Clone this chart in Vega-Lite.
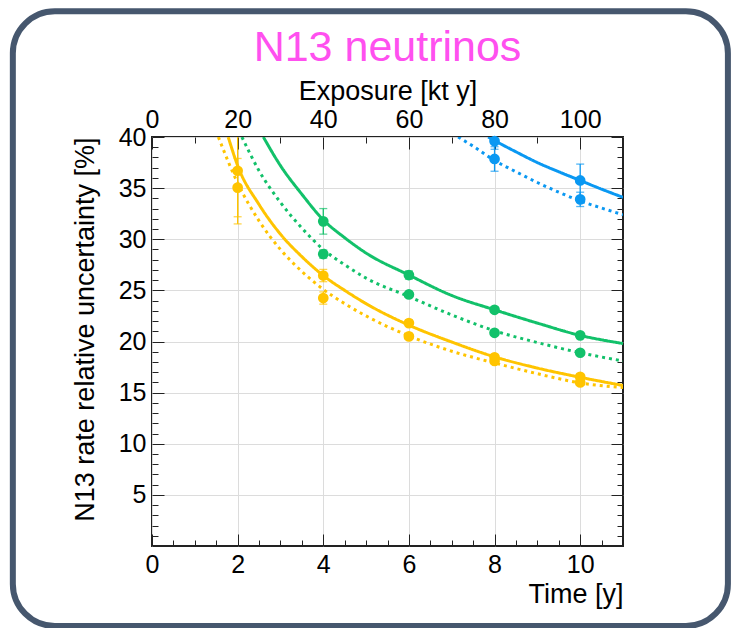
{
  "$schema": "https://vega.github.io/schema/vega-lite/v6.json",
  "width": 471,
  "height": 409,
  "autosize": {"type": "none"},
  "padding": {"left": 152, "top": 137, "right": 113, "bottom": 82},
  "background": "white",
  "config": {
    "font": "Liberation Sans",
    "view": {"stroke": "#222222", "strokeWidth": 2},
    "axis": {"labelColor": "#000000", "titleColor": "#000000", "tickColor": "#222222", "labelFont": "Liberation Sans", "titleFont": "Liberation Sans", "titleFontWeight": "normal"}
  },
  "title": {"text": "N13 neutrinos", "fontSize": 43, "color": "#ff50ef", "fontWeight": "normal", "anchor": "middle", "baseline": "alphabetic", "offset": -96, "font": "Liberation Sans"},
  "datasets": {
    "curves": [
      {"group": "yellow", "kind": "solid", "t": 1.78, "v": 40},
      {"group": "yellow", "kind": "solid", "t": 2, "v": 37.2},
      {"group": "yellow", "kind": "solid", "t": 2.5, "v": 33.4},
      {"group": "yellow", "kind": "solid", "t": 3, "v": 30.5},
      {"group": "yellow", "kind": "solid", "t": 3.5, "v": 28.3},
      {"group": "yellow", "kind": "solid", "t": 4, "v": 26.45},
      {"group": "yellow", "kind": "solid", "t": 4.5, "v": 25.0},
      {"group": "yellow", "kind": "solid", "t": 5, "v": 23.7},
      {"group": "yellow", "kind": "solid", "t": 6, "v": 21.6},
      {"group": "yellow", "kind": "solid", "t": 7, "v": 19.95},
      {"group": "yellow", "kind": "solid", "t": 8, "v": 18.5},
      {"group": "yellow", "kind": "solid", "t": 9, "v": 17.4},
      {"group": "yellow", "kind": "solid", "t": 10, "v": 16.5},
      {"group": "yellow", "kind": "solid", "t": 11, "v": 15.7},
      {"group": "yellow", "kind": "dotted", "t": 1.55, "v": 40},
      {"group": "yellow", "kind": "dotted", "t": 2, "v": 35.5},
      {"group": "yellow", "kind": "dotted", "t": 2.5, "v": 31.8},
      {"group": "yellow", "kind": "dotted", "t": 3, "v": 29.0},
      {"group": "yellow", "kind": "dotted", "t": 3.5, "v": 26.85},
      {"group": "yellow", "kind": "dotted", "t": 4, "v": 25.1},
      {"group": "yellow", "kind": "dotted", "t": 4.5, "v": 23.7},
      {"group": "yellow", "kind": "dotted", "t": 5, "v": 22.5},
      {"group": "yellow", "kind": "dotted", "t": 6, "v": 20.55},
      {"group": "yellow", "kind": "dotted", "t": 7, "v": 19.05},
      {"group": "yellow", "kind": "dotted", "t": 8, "v": 17.9},
      {"group": "yellow", "kind": "dotted", "t": 9, "v": 16.85},
      {"group": "yellow", "kind": "dotted", "t": 10, "v": 15.95},
      {"group": "yellow", "kind": "dotted", "t": 11, "v": 15.5},
      {"group": "green", "kind": "solid", "t": 2.6, "v": 40},
      {"group": "green", "kind": "solid", "t": 3, "v": 37.2},
      {"group": "green", "kind": "solid", "t": 3.5, "v": 34.4},
      {"group": "green", "kind": "solid", "t": 4, "v": 31.9},
      {"group": "green", "kind": "solid", "t": 4.5, "v": 30.15},
      {"group": "green", "kind": "solid", "t": 5, "v": 28.65},
      {"group": "green", "kind": "solid", "t": 6, "v": 26.5},
      {"group": "green", "kind": "solid", "t": 7, "v": 24.5},
      {"group": "green", "kind": "solid", "t": 8, "v": 23.1},
      {"group": "green", "kind": "solid", "t": 9, "v": 21.8},
      {"group": "green", "kind": "solid", "t": 10, "v": 20.6},
      {"group": "green", "kind": "solid", "t": 11, "v": 19.8},
      {"group": "green", "kind": "dotted", "t": 2.1, "v": 40},
      {"group": "green", "kind": "dotted", "t": 2.5, "v": 36.7},
      {"group": "green", "kind": "dotted", "t": 3, "v": 33.6},
      {"group": "green", "kind": "dotted", "t": 3.5, "v": 31.1},
      {"group": "green", "kind": "dotted", "t": 4, "v": 29.0},
      {"group": "green", "kind": "dotted", "t": 4.5, "v": 27.5},
      {"group": "green", "kind": "dotted", "t": 5, "v": 26.2},
      {"group": "green", "kind": "dotted", "t": 6, "v": 24.4},
      {"group": "green", "kind": "dotted", "t": 7, "v": 22.6},
      {"group": "green", "kind": "dotted", "t": 8, "v": 21.05},
      {"group": "green", "kind": "dotted", "t": 9, "v": 19.9},
      {"group": "green", "kind": "dotted", "t": 10, "v": 18.9},
      {"group": "green", "kind": "dotted", "t": 11, "v": 18.1},
      {"group": "blue", "kind": "solid", "t": 7.85, "v": 40},
      {"group": "blue", "kind": "solid", "t": 8, "v": 39.65},
      {"group": "blue", "kind": "solid", "t": 8.5, "v": 38.55},
      {"group": "blue", "kind": "solid", "t": 9, "v": 37.5},
      {"group": "blue", "kind": "solid", "t": 9.5, "v": 36.6},
      {"group": "blue", "kind": "solid", "t": 10, "v": 35.75},
      {"group": "blue", "kind": "solid", "t": 10.5, "v": 34.9},
      {"group": "blue", "kind": "solid", "t": 11, "v": 34.1},
      {"group": "blue", "kind": "dotted", "t": 7.15, "v": 40},
      {"group": "blue", "kind": "dotted", "t": 7.5, "v": 39.1},
      {"group": "blue", "kind": "dotted", "t": 8, "v": 37.7},
      {"group": "blue", "kind": "dotted", "t": 8.5, "v": 36.6},
      {"group": "blue", "kind": "dotted", "t": 9, "v": 35.55},
      {"group": "blue", "kind": "dotted", "t": 9.5, "v": 34.6},
      {"group": "blue", "kind": "dotted", "t": 10, "v": 33.75},
      {"group": "blue", "kind": "dotted", "t": 10.5, "v": 33.05},
      {"group": "blue", "kind": "dotted", "t": 11, "v": 32.4}
    ],
    "points": [
      {"group": "yellow", "kind": "solid", "t": 2, "v": 36.7, "lo": 31.5, "hi": 41.9},
      {"group": "yellow", "kind": "solid", "t": 4, "v": 26.45, "lo": 25.85, "hi": 27.05},
      {"group": "yellow", "kind": "solid", "t": 6, "v": 21.8, "lo": 21.5, "hi": 22.1},
      {"group": "yellow", "kind": "solid", "t": 8, "v": 18.45, "lo": 18.2, "hi": 18.7},
      {"group": "yellow", "kind": "solid", "t": 10, "v": 16.55, "lo": 16.3, "hi": 16.8},
      {"group": "yellow", "kind": "dotted", "t": 2, "v": 35.05, "lo": 32.2, "hi": 37.9},
      {"group": "yellow", "kind": "dotted", "t": 4, "v": 24.25, "lo": 23.65, "hi": 24.85},
      {"group": "yellow", "kind": "dotted", "t": 6, "v": 20.5, "lo": 20.25, "hi": 20.75},
      {"group": "yellow", "kind": "dotted", "t": 8, "v": 18.1, "lo": 17.85, "hi": 18.35},
      {"group": "yellow", "kind": "dotted", "t": 10, "v": 16.0, "lo": 15.75, "hi": 16.25},
      {"group": "green", "kind": "solid", "t": 4, "v": 31.75, "lo": 30.5, "hi": 33.0},
      {"group": "green", "kind": "solid", "t": 6, "v": 26.5, "lo": 26.1, "hi": 26.9},
      {"group": "green", "kind": "solid", "t": 8, "v": 23.1, "lo": 22.85, "hi": 23.35},
      {"group": "green", "kind": "solid", "t": 10, "v": 20.6, "lo": 20.4, "hi": 20.8},
      {"group": "green", "kind": "dotted", "t": 4, "v": 28.55, "lo": 28.15, "hi": 28.95},
      {"group": "green", "kind": "dotted", "t": 6, "v": 24.6, "lo": 24.3, "hi": 24.9},
      {"group": "green", "kind": "dotted", "t": 8, "v": 20.85, "lo": 20.65, "hi": 21.05},
      {"group": "green", "kind": "dotted", "t": 10, "v": 18.9, "lo": 18.7, "hi": 19.1},
      {"group": "blue", "kind": "solid", "t": 8, "v": 39.6, "lo": 38.8, "hi": 40.4},
      {"group": "blue", "kind": "solid", "t": 10, "v": 35.75, "lo": 34.15, "hi": 37.35},
      {"group": "blue", "kind": "dotted", "t": 8, "v": 37.85, "lo": 36.65, "hi": 39.05},
      {"group": "blue", "kind": "dotted", "t": 10, "v": 33.9, "lo": 33.2, "hi": 34.6}
    ]
  },
  "resolve": {"scale": {"x": "shared", "y": "shared", "color": "shared"}, "axis": {"x": "independent", "y": "independent"}},
  "layer": [
    {
      "data": {"values": [{"frame": "outer"}]},
      "mark": {"type": "rect", "filled": false, "stroke": "#46576e", "strokeWidth": 6, "cornerRadius": 42, "clip": false},
      "encoding": {
        "x": {"datum": -3.25, "type": "quantitative", "scale": {"domain": [0, 11], "nice": false, "zero": false}, "axis": null},
        "x2": {"datum": 13.45},
        "y": {"datum": 52.3, "type": "quantitative", "scale": {"domain": [0, 40], "nice": false, "zero": false}, "axis": null},
        "y2": {"datum": -7.82}
      }
    },
    {
      "data": {"name": "curves"},
      "mark": {"type": "line", "strokeWidth": 3, "clip": true, "strokeCap": "butt", "interpolate": "monotone"},
      "encoding": {
        "x": {"field": "t", "type": "quantitative", "axis": {"orient": "bottom", "values": [0, 2, 4, 6, 8, 10], "title": "Time [y]", "titleAnchor": "end", "titleAlign": "right", "titleFontSize": 27, "titlePadding": 4, "labelFontSize": 25, "labelPadding": 18, "labelFlush": false, "labelOverlap": false, "tickSize": -12, "tickWidth": 1, "domain": false, "grid": true, "gridColor": "#dcdcdc", "gridWidth": 1}},
        "y": {"field": "v", "type": "quantitative", "axis": {"orient": "left", "values": [5, 10, 15, 20, 25, 30, 35, 40], "title": "N13 rate relative uncertainty [%]", "titleAnchor": "end", "titleFontSize": 27, "titlePadding": 19, "labelFontSize": 25, "labelPadding": 18, "labelFlush": false, "labelOverlap": false, "tickSize": -12, "tickWidth": 1, "domain": false, "grid": true, "gridColor": "#dcdcdc", "gridWidth": 1}},
        "color": {"field": "group", "type": "nominal", "scale": {"domain": ["yellow", "green", "blue"], "range": ["#ffc400", "#12c16a", "#0a98f2"]}, "legend": null},
        "strokeDash": {"field": "kind", "type": "nominal", "scale": {"domain": ["solid", "dotted"], "range": [[1, 0], [3, 4]]}, "legend": null}
      }
    },
    {
      "data": {"name": "points"},
      "mark": {"type": "rule", "strokeWidth": 1.3, "clip": true},
      "encoding": {
        "x": {"field": "t", "type": "quantitative", "axis": {"orient": "bottom", "values": [0.5, 1, 1.5, 2.5, 3, 3.5, 4.5, 5, 5.5, 6.5, 7, 7.5, 8.5, 9, 9.5, 10.5], "labels": false, "title": null, "tickSize": -6, "tickWidth": 1, "domain": false, "grid": false}},
        "y": {"field": "lo", "type": "quantitative", "axis": {"orient": "left", "values": [1, 2, 3, 4, 6, 7, 8, 9, 11, 12, 13, 14, 16, 17, 18, 19, 21, 22, 23, 24, 26, 27, 28, 29, 31, 32, 33, 34, 36, 37, 38, 39], "labels": false, "title": null, "tickSize": -6, "tickWidth": 1, "domain": false, "grid": false}},
        "y2": {"field": "hi"},
        "color": {"field": "group", "type": "nominal", "legend": null}
      }
    },
    {
      "data": {"name": "points"},
      "mark": {"type": "tick", "orient": "horizontal", "size": 8, "thickness": 1.3, "clip": true},
      "encoding": {
        "x": {"field": "t", "type": "quantitative", "axis": {"orient": "top", "values": [0, 2, 4, 6, 8, 10], "labelExpr": "format(datum.value * 10, 'd')", "title": "Exposure [kt y]", "titleFontSize": 27, "titlePadding": 2, "labelFontSize": 25, "labelPadding": 17, "labelFlush": false, "labelOverlap": false, "tickSize": -12, "tickWidth": 1, "domain": false, "grid": false}},
        "y": {"field": "lo", "type": "quantitative", "axis": {"orient": "right", "values": [0, 5, 10, 15, 20, 25, 30, 35, 40], "labels": false, "title": null, "tickSize": -12, "tickWidth": 1, "domain": false, "grid": false}},
        "color": {"field": "group", "type": "nominal", "legend": null}
      }
    },
    {
      "data": {"name": "points"},
      "mark": {"type": "tick", "orient": "horizontal", "size": 8, "thickness": 1.3, "clip": true},
      "encoding": {
        "x": {"field": "t", "type": "quantitative", "axis": {"orient": "top", "values": [1, 3, 5, 7, 9], "labels": false, "title": null, "tickSize": -6, "tickWidth": 1, "domain": false, "grid": false}},
        "y": {"field": "hi", "type": "quantitative", "axis": {"orient": "right", "values": [1, 2, 3, 4, 6, 7, 8, 9, 11, 12, 13, 14, 16, 17, 18, 19, 21, 22, 23, 24, 26, 27, 28, 29, 31, 32, 33, 34, 36, 37, 38, 39], "labels": false, "title": null, "tickSize": -6, "tickWidth": 1, "domain": false, "grid": false}},
        "color": {"field": "group", "type": "nominal", "legend": null}
      }
    },
    {
      "data": {"name": "points"},
      "mark": {"type": "circle", "size": 115, "opacity": 1},
      "encoding": {
        "x": {"field": "t", "type": "quantitative", "axis": null},
        "y": {"field": "v", "type": "quantitative", "axis": null},
        "color": {"field": "group", "type": "nominal", "legend": null}
      }
    }
  ]
}
